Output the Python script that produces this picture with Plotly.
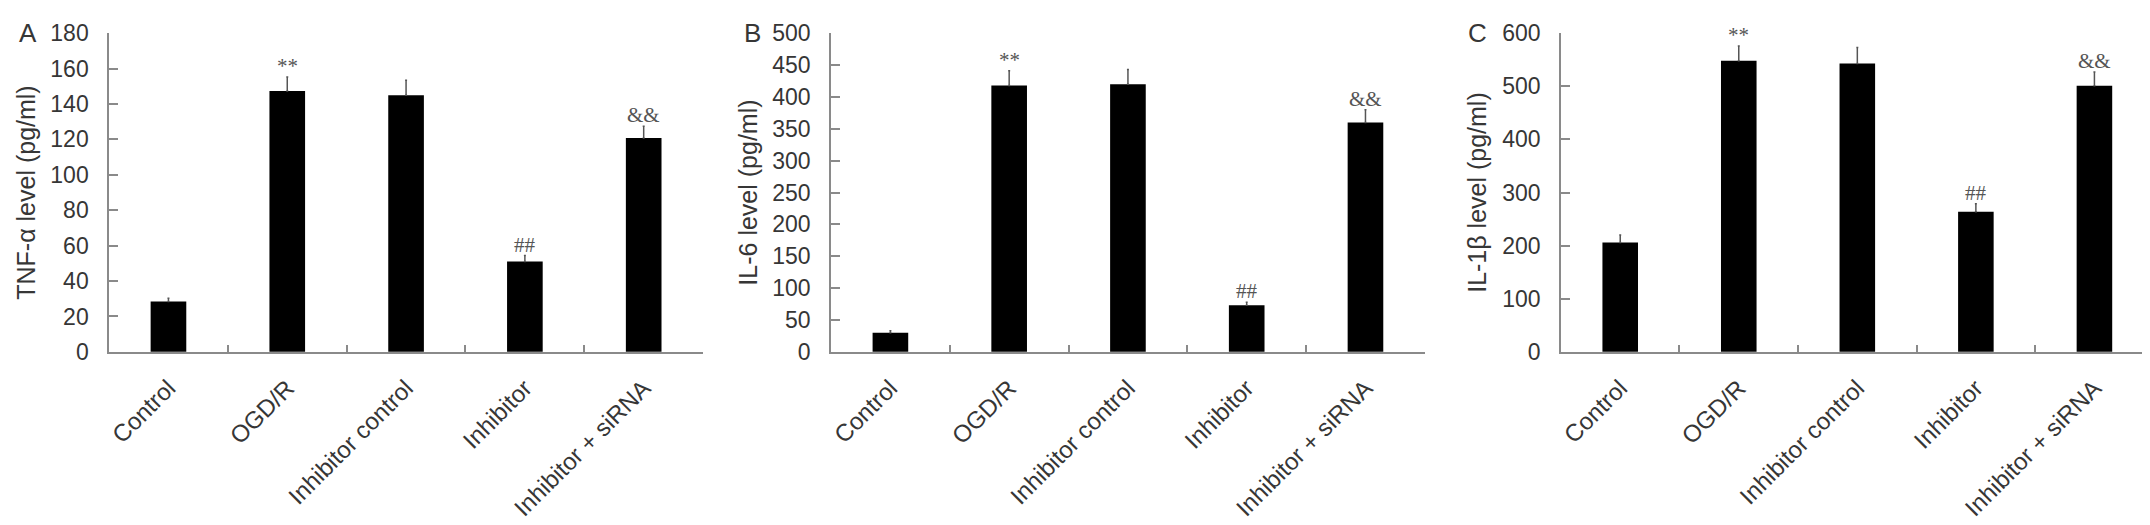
import plotly.graph_objects as go
from plotly.subplots import make_subplots

# groups on the x axis
categories = ["Control", "OGD/R", "Inhibitor control", "Inhibitor", "Inhibitor + siRNA"]

# panel A: TNF-alpha (pg/ml)
tnf = [28.4, 147.3, 144.9, 51.1, 120.8]
tnf_err = [1.9, 8.0, 8.5, 3.3, 6.7]

# panel B: IL-6 (pg/ml)
il6 = [30, 418, 420, 73, 360]
il6_err = [3, 23, 23, 5, 20]

# panel C: IL-1beta (pg/ml)
il1b = [206, 548, 543, 264, 501]
il1b_err = [14, 28, 30, 15, 26]

# significance marks above the bars
marks = ["", "**", "", "##", "&&"]

panels = [
    ("A", "TNF-α level (pg/ml)", tnf, tnf_err, 180, 20),
    ("B", "IL-6 level (pg/ml)", il6, il6_err, 500, 50),
    ("C", "IL-1β level (pg/ml)", il1b, il1b_err, 600, 100),
]

x_domains = [[0.0470, 0.3233], [0.3828, 0.659], [0.7223, 0.998]]
y_domain = [0.345, 0.952]
letter_x = [0.0093, 0.3465, 0.6835]

AXIS_COLOR = "#8a8a8a"
TEXT_COLOR = "#363636"

fig = make_subplots(rows=1, cols=3)

for i, (letter, title, vals, errs, ymax, dtick) in enumerate(panels):
    col = i + 1
    fig.add_trace(go.Bar(
        x=categories,
        y=vals,
        width=0.3,
        marker_color="black",
        marker_line_width=0,
        error_y=dict(
            type="data",
            symmetric=False,
            array=errs,
            arrayminus=[0] * len(errs),
            color="#555555",
            thickness=1.5,
            width=1,
        ),
        showlegend=False,
    ), row=1, col=col)

    for cat, v, e, m in zip(categories, vals, errs, marks):
        if m:
            fig.add_annotation(
                x=cat, y=v + e, text=m, showarrow=False,
                xref="x%d" % col if col > 1 else "x",
                yref="y%d" % col if col > 1 else "y",
                yanchor="bottom", yshift=-3,
                font=dict(family="Liberation Serif", size=21, color="#555555"),
            )

    fig.add_annotation(
        x=letter_x[i], y=0.952, xref="paper", yref="paper",
        text=letter, showarrow=False, xanchor="center", yanchor="middle",
        font=dict(family="Liberation Sans", size=26, color=TEXT_COLOR),
    )

    fig.update_xaxes(
        domain=x_domains[i], automargin=False,
        showline=True, linecolor=AXIS_COLOR, linewidth=1.5,
        ticks="inside", tickson="boundaries", ticklen=7,
        tickcolor=AXIS_COLOR, tickwidth=1.5,
        tickangle=-45, ticklabelstandoff=11,
        tickfont=dict(family="Liberation Sans", size=24, color=TEXT_COLOR),
        showgrid=False, zeroline=False,
        row=1, col=col,
    )
    fig.update_yaxes(
        domain=y_domain, automargin=False,
        range=[0, ymax], dtick=dtick,
        showline=True, linecolor=AXIS_COLOR, linewidth=1.5,
        ticks="inside", ticklen=9, tickcolor=AXIS_COLOR, tickwidth=1.5,
        ticklabelstandoff=14,
        tickfont=dict(family="Liberation Sans", size=23, color=TEXT_COLOR),
        title=dict(text=title, standoff=8,
                   font=dict(family="Liberation Sans", size=25, color=TEXT_COLOR)),
        showgrid=False, zeroline=False,
        row=1, col=col,
    )

fig.update_layout(
    width=2150, height=525,
    margin=dict(l=0, r=0, t=0, b=0, autoexpand=False),
    plot_bgcolor="white", paper_bgcolor="white",
    bargap=0.7,
)

fig.write_html("out.html")
